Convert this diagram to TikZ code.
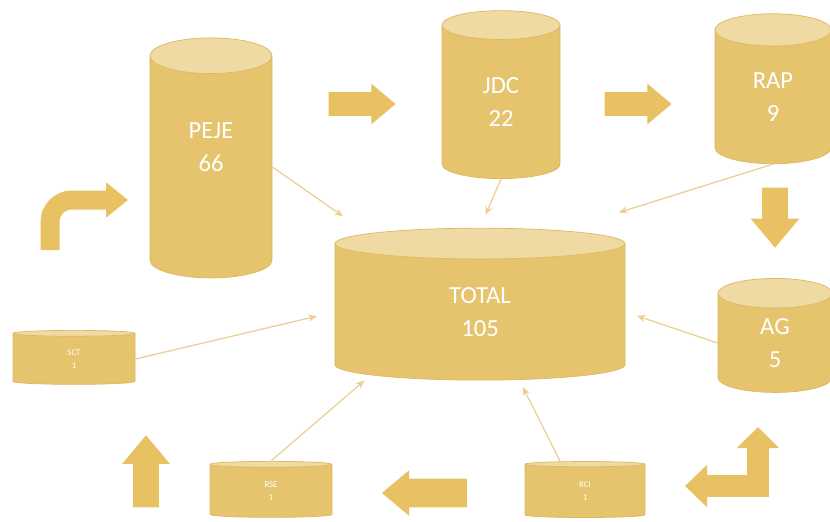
\documentclass[tikz,border=0pt]{standalone}
\usepackage{fontspec}
\setmainfont{Carlito}
\usetikzlibrary{shapes.geometric,shapes.arrows,arrows.meta}
\newcommand\U{0.02cm}
\definecolor{cylbody}{HTML}{E6C46E}
\definecolor{cyltop}{HTML}{F0DAA4}
\definecolor{cylline}{HTML}{DDB85C}
\definecolor{blockfill}{HTML}{E8C163}
\definecolor{thinline}{HTML}{EACF90}

\begin{document}
\begin{tikzpicture}[x=\U,y=-\U,
                    link/.style={->,>={Stealth[length=5pt,width=4pt]},thinline,line width=0.7pt},
                    bent/.style={blockfill,line join=miter}]

  \tikzstyle{drum}=[cylinder,shape border rotate=90,cylinder uses custom fill,
                    cylinder body fill=cylbody,cylinder end fill=cyltop,draw=cylline,
                    line width=0.4pt,inner sep=0pt,align=center,text=white,
                    font=\fontsize{14}{19}\selectfont]
  \tikzstyle{flat drum}=[drum,font=\fontsize{5}{7}\selectfont,aspect=0.45]
  \tikzstyle{block}=[single arrow,fill=blockfill,inner sep=0pt,single arrow tip angle=80]

  \useasboundingbox (0,0) rectangle (830,521);
  \clip (0,0) rectangle (830,521);

  \node[drum,aspect=0.8,minimum width=122*\U,minimum height=240*\U]  (peje)  at (211,167) {PEJE\\66\\[4pt]\mbox{}};
  \node[drum,aspect=0.8,minimum width=118*\U,minimum height=168*\U]  (jdc)   at (501,102) {JDC\\22};
  \node[drum,aspect=0.8,minimum width=116*\U,minimum height=150*\U]  (rap)   at (773,97)  {RAP\\9};
  \node[drum,aspect=0.5,minimum width=290*\U,minimum height=152*\U] (total) at (480,312) {TOTAL\\105};
  \node[drum,aspect=1.0,minimum width=114*\U,minimum height=114*\U]  (ag)    at (775,343) {AG\\5};
  \node[flat drum,minimum width=122*\U,minimum height=54*\U] (sct) at (74,359)  {SCT\\1};
  \node[flat drum,minimum width=122*\U,minimum height=56*\U] (rse) at (271,491) {RSE\\1};
  \node[flat drum,minimum width=120*\U,minimum height=56*\U] (rci) at (585,491) {RCI\\1};

  % block arrows
  \node[block,minimum height=67*\U,inner ysep=11.5*\U,single arrow head extend=8.5*\U] (go1) at (355,104) {};
  \node[block,minimum height=67*\U,inner ysep=11.5*\U,single arrow head extend=8.5*\U] (go2) at (631,104) {};
  \node[block,shape border rotate=270,minimum height=60*\U,inner xsep=12.5*\U,single arrow head extend=11.5*\U] (down) at (775,210) {};
  \node[block,shape border rotate=90,minimum height=72*\U,inner xsep=12.5*\U,single arrow head extend=11*\U] (up) at (146,479) {};
  \node[block,shape border rotate=180,minimum height=85*\U,inner ysep=14*\U,single arrow head extend=8.5*\U] (back) at (433,493) {};

  \coordinate (turnA) at (50,250);
  \coordinate (turnB) at (128,200);
  \draw[bent,line width=19*\U,rounded corners=22*\U,-{Triangle[length=0.44cm,width=0.68cm]}]
    (turnA) -- (50,200) -- (turnB);

  \coordinate (forkA) at (685,486);
  \coordinate (forkB) at (758,427);
  \draw[bent,line width=22*\U,{Triangle[length=0.44cm,width=0.82cm]}-{Triangle[length=0.42cm,width=0.82cm]}]
    (forkA) -- (758,486) -- (forkB);

  \path[link]
  (peje.east) edge [shorten >=30*\U] (total)
  (jdc.south) edge [shorten >=14*\U] (total.north)
  (rap.south) edge [shorten >=60*\U] (total.north east)
  (ag.west)   edge [shorten >=12*\U] (total.east)
  (sct.east)  edge [shorten >=18*\U] (total.west)
  (rse.north) edge [shorten >=8*\U]  (total.210)
  (rci.130)   edge [shorten >=8*\U]  (total.300)
  ;
\end{tikzpicture}
\end{document}
